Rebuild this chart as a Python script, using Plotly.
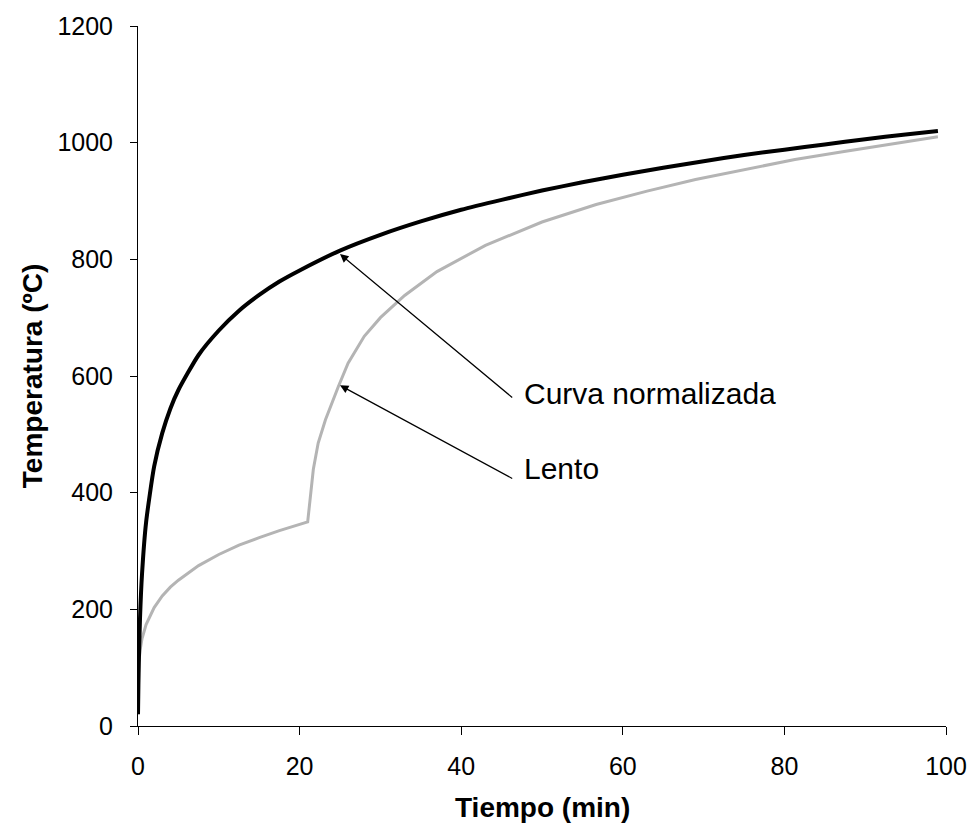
import plotly.graph_objects as go

# Curva normalizada (ISO)
t_norm = [0, 0.05, 0.1, 0.25, 0.5, 1, 2, 3, 4, 5, 7.5, 10, 12.5, 15, 17.5, 20, 25, 30, 35, 40,
          45, 50, 55, 60, 65, 70, 75, 80, 85, 90, 95, 99]
T_norm = [20, 70, 108, 185, 261, 349, 445, 502, 544, 576, 636, 678, 712, 739, 762, 781, 815, 842,
          865, 885, 902, 918, 932, 945, 957, 968, 979, 988, 997, 1006, 1014, 1020]

# Lento – values
t_lento = [0, 0.05, 0.1, 0.25, 0.5, 1, 2, 3, 4, 5, 7.5, 10, 12.5, 15, 17.5, 21, 21.3, 21.7, 22.3,
           23.2, 24.8, 26, 28, 30, 33, 37, 43, 50, 56.7, 63, 69, 75, 81.3, 87, 93.6, 99]
T_lento = [20, 93, 107, 129, 150, 174, 203, 223, 238, 250, 275, 294, 310, 323, 335, 350, 389, 440, 485,
           525, 582, 622, 668, 700, 738, 779, 824, 864, 894, 917, 937, 954, 971, 984, 998, 1010]

x_ticks = [0, 20, 40, 60, 80, 100]
y_ticks = [0, 200, 400, 600, 800, 1000, 1200]

FONT = "Liberation Sans, Arial, sans-serif"

fig = go.Figure()
fig.add_trace(go.Scatter(x=t_lento, y=T_lento, mode="lines", name="Lento",
                         line=dict(color="#b4b4b4", width=3)))
fig.add_trace(go.Scatter(x=t_norm, y=T_norm, mode="lines", name="Curva normalizada",
                         line=dict(color="#000000", width=4, shape="spline", smoothing=0.6)))

# arrows
arrows = [
    dict(tip=(25.0, 809), tail=(46.5, 561)),
    dict(tip=(25.0, 584), tail=(46.5, 423)),
]
for a in arrows:
    fig.add_annotation(x=a["tip"][0], y=a["tip"][1], ax=a["tail"][0], ay=a["tail"][1],
                       xref="x", yref="y", axref="x", ayref="y", text="",
                       showarrow=True, arrowhead=2, arrowsize=1.4, arrowwidth=1.2,
                       arrowcolor="#000000", standoff=0, startstandoff=0)

labels = [("Curva normalizada", 47.5, 570), ("Lento", 47.5, 441)]
for txt, x, y in labels:
    fig.add_annotation(x=x, y=y, xref="x", yref="y", text=txt, showarrow=False,
                       xanchor="left", yanchor="middle",
                       font=dict(family=FONT, size=30, color="#000000"))

# axis titles
fig.add_annotation(x=0.5, y=-0.117, xref="paper", yref="paper", text="<b>Tiempo (min)</b>",
                   showarrow=False, xanchor="center", yanchor="middle",
                   font=dict(family=FONT, size=28, color="#000000"))
fig.add_annotation(x=-0.131, y=0.5, xref="paper", yref="paper", text="<b>Temperatura (ºC)</b>",
                   showarrow=False, xanchor="center", yanchor="middle", textangle=-90,
                   font=dict(family=FONT, size=28, color="#000000"))

fig.update_layout(
    width=979, height=829,
    margin=dict(l=138, r=27, t=20, b=103),
    paper_bgcolor="white", plot_bgcolor="white",
    showlegend=False,
    font=dict(family=FONT, color="#000000"),
)
fig.update_xaxes(range=[0, 100], tickvals=x_ticks, showgrid=False, zeroline=False,
                 showline=True, linecolor="#000000", linewidth=1,
                 ticks="outside", ticklen=8, tickcolor="#000000", tickwidth=1,
                 tickfont=dict(family=FONT, size=25, color="#000000"), ticklabelstandoff=10)
fig.update_yaxes(range=[0, 1200], tickvals=y_ticks, showgrid=False, zeroline=False,
                 showline=True, linecolor="#000000", linewidth=1,
                 ticks="outside", ticklen=7, tickcolor="#000000", tickwidth=1,
                 tickfont=dict(family=FONT, size=25, color="#000000"), ticklabelstandoff=12)

fig.write_html("out.html")
